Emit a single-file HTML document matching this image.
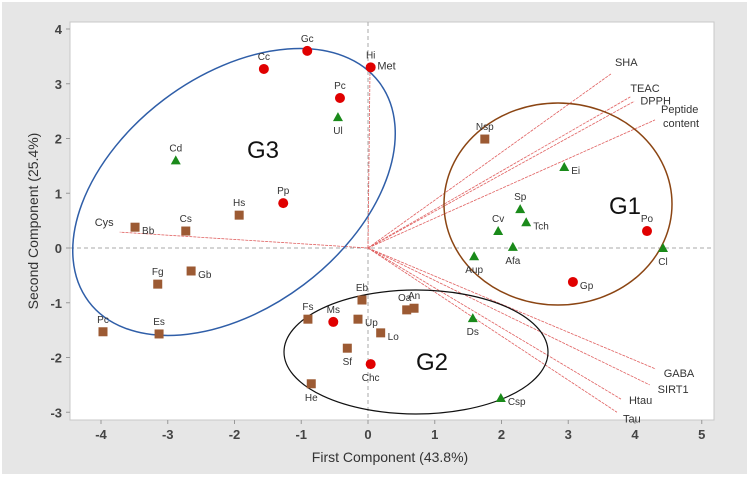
<!DOCTYPE html>
<html><head><meta charset="utf-8"><style>
body{margin:0;background:#fff;}
svg{display:block;font-family:"Liberation Sans",sans-serif;}
</style></head><body>
<svg width="749" height="477" id="chart">
<rect x="2" y="2" width="745" height="472" fill="#e6e6e6"/>
<rect x="70" y="22" width="644" height="398" fill="#fff" stroke="#c8c8c8"/>
<g id="axes"></g>
<g id="loadings"></g>
<ellipse cx="234" cy="192" rx="182" ry="116" transform="rotate(-37 234 192)" fill="none" stroke="#2f5ea8" stroke-width="1.5"/>
<ellipse cx="558" cy="204" rx="114" ry="101" fill="none" stroke="#8b4513" stroke-width="1.5"/>
<ellipse cx="416" cy="352" rx="132" ry="62" fill="none" stroke="#111" stroke-width="1.2"/>
<text x="247" y="158" font-size="24" fill="#111">G3</text>
<text x="609" y="214" font-size="24" fill="#111">G1</text>
<text x="416" y="370" font-size="24" fill="#111">G2</text>
<g id="points"></g>
<text x="390" y="462" text-anchor="middle" font-size="14" fill="#333">First Component (43.8%)</text>
<text transform="translate(38 221) rotate(-90)" text-anchor="middle" font-size="14" fill="#333">Second Component (25.4%)</text>
</svg>
<script>
const xTicks=[-4,-3,-2,-1,0,1,2,3,4,5];
const yTicks=[-3,-2,-1,0,1,2,3,4];
const circleNames=["Cc","Gc","Hi","Pc","Pp","Po","Gp","Ms","Chc"];
const circleX=[-1.56,-0.91,0.04,-0.42,-1.27,4.18,3.07,-0.52,0.04];
const circleY=[3.27,3.6,3.3,2.74,0.82,0.31,-0.62,-1.35,-2.12];
const triNames=["Ul","Cd","Ei","Sp","Tch","Cv","Afa","Aup","Cl","Ds","Csp"];
const triX=[-0.45,-2.88,2.94,2.28,2.37,1.95,2.17,1.59,4.42,1.57,1.99];
const triY=[2.39,1.6,1.48,0.71,0.47,0.31,0.02,-0.15,0.0,-1.28,-2.74];
const sqNames=["Nsp","Bb","Cs","Hs","Gb","Fg","Pc","Es","Fs","Eb","Up","Sf","He","Lo","Oa","An"];
const sqX=[1.75,-3.49,-2.73,-1.93,-2.65,-3.15,-3.97,-3.13,-0.9,-0.09,-0.15,-0.31,-0.85,0.19,0.58,0.69];
const sqY=[1.99,0.38,0.31,0.6,-0.42,-0.66,-1.53,-1.57,-1.3,-0.95,-1.3,-1.83,-2.48,-1.55,-1.13,-1.1];
const loadNames=["SHA","TEAC","DPPH","Peptide content","GABA","SIRT1","Htau","Tau","Cys","Met"];
const loadX=[3.64,3.93,3.99,4.3,4.31,4.22,3.79,3.73,-3.72,0.03];
const loadY=[3.18,2.76,2.68,2.34,-2.21,-2.5,-2.76,-3.0,0.29,3.25];
// label placement (a=above, b=below, r=right)
const circlePos={Cc:'a',Gc:'a',Hi:'a',Pc:'a',Pp:'a',Po:'a',Gp:'r',Ms:'a',Chc:'b'};
const triPos={Ul:'b',Cd:'a',Ei:'r',Sp:'a',Tch:'r',Cv:'a',Afa:'b',Aup:'b',Cl:'b',Ds:'b',Csp:'r'};
const sqPos={Nsp:'a',Bb:'r',Cs:'a',Hs:'a',Gb:'r',Fg:'a',Pc:'a',Es:'a',Fs:'a',Eb:'a',Up:'r',Sf:'b',He:'b',Lo:'r',Oa:'al',An:'a'};
const loadLabelOff={SHA:[4,-8],TEAC:[0,-5],DPPH:[6,3],"Peptide content":[6,-7],GABA:[8,8],SIRT1:[8,8],Htau:[8,5],Tau:[6,10],Cys:[-6,-6]};

const sx=v=>368+v*66.75, sy=v=>248-v*54.75;
const NS="http://www.w3.org/2000/svg";
function mk(t,a,parent){const e=document.createElementNS(NS,t);for(const k in a)e.setAttribute(k,a[k]);parent.appendChild(e);return e;}
const axes=document.getElementById('axes'),pts=document.getElementById('points'),ld=document.getElementById('loadings');
const zx=mk('line',{x1:sx(0),x2:sx(0),y1:22,y2:420,stroke:'#aaa','stroke-dasharray':'4 3'},axes);


const zy=mk('line',{x1:70,x2:714,y1:sy(0),y2:sy(0),stroke:'#aaa','stroke-dasharray':'4 3'},axes);


xTicks.forEach(v=>{const l=mk('line',{x1:sx(v),x2:sx(v),y1:420,y2:424,stroke:'#999'},axes);


const t=mk('text',{x:sx(v),y:439,'text-anchor':'middle','font-size':13,'font-weight':'bold',fill:'#444'},axes);t.textContent=v;

});
yTicks.forEach(v=>{const l=mk('line',{x1:66,x2:70,y1:sy(v),y2:sy(v),stroke:'#999'},axes);


const t=mk('text',{x:62,y:sy(v)+5,'text-anchor':'end','font-size':13,'font-weight':'bold',fill:'#444'},axes);t.textContent=v;

});
loadNames.forEach((n,i)=>{const l=mk('line',{x1:sx(0),y1:sy(0),x2:sx(loadX[i]),y2:sy(loadY[i]),stroke:'#e06060','stroke-width':0.8,'stroke-dasharray':'3 1'},ld);


if(n==='Met')return;
const o=loadLabelOff[n];const right=loadX[i]>0;const parts=n==='Peptide content'?['Peptide','content']:[n];
parts.forEach((p,j)=>{const t=mk('text',{x:sx(loadX[i])+o[0]+(j?2:0),y:sy(loadY[i])+o[1]+j*14,'font-size':11,fill:'#333','text-anchor':right?'start':'end'},ld);t.textContent=p;

});});
const mt=mk('text',{x:sx(0.05)+6,y:sy(3.3)+2,'font-size':11,fill:'#333'},ld);mt.textContent='Met';


function lab(x,y,n,p){let a={x:x,y:y-9,'text-anchor':'middle'};
if(p==='b')a={x:x,y:y+17,'text-anchor':'middle'};
if(p==='r')a={x:x+7,y:y+7,'text-anchor':'start'};
if(p==='al')a={x:x-2,y:y-9,'text-anchor':'middle'};
a['font-size']=10;a.fill='#333';
const t=mk('text',a,pts);t.textContent=n;

}
circleNames.forEach((n,i)=>{const c=mk('circle',{cx:sx(circleX[i]),cy:sy(circleY[i]),r:5,fill:'#e00000'},pts);


lab(sx(circleX[i]),sy(circleY[i]),n,circlePos[n]);});
triNames.forEach((n,i)=>{const x=sx(triX[i]),y=sy(triY[i]);const p=mk('polygon',{points:`${x-5},${y+4} ${x+5},${y+4} ${x},${y-5}`,fill:'#1a8a1a'},pts);


lab(x,y,n,triPos[n]);});
sqNames.forEach((n,i)=>{const x=sx(sqX[i]),y=sy(sqY[i]);const r=mk('rect',{x:x-4.5,y:y-4.5,width:9,height:9,fill:'#9c5a33'},pts);


lab(x,y,n,sqPos[n]);});
</script>
</body></html>
